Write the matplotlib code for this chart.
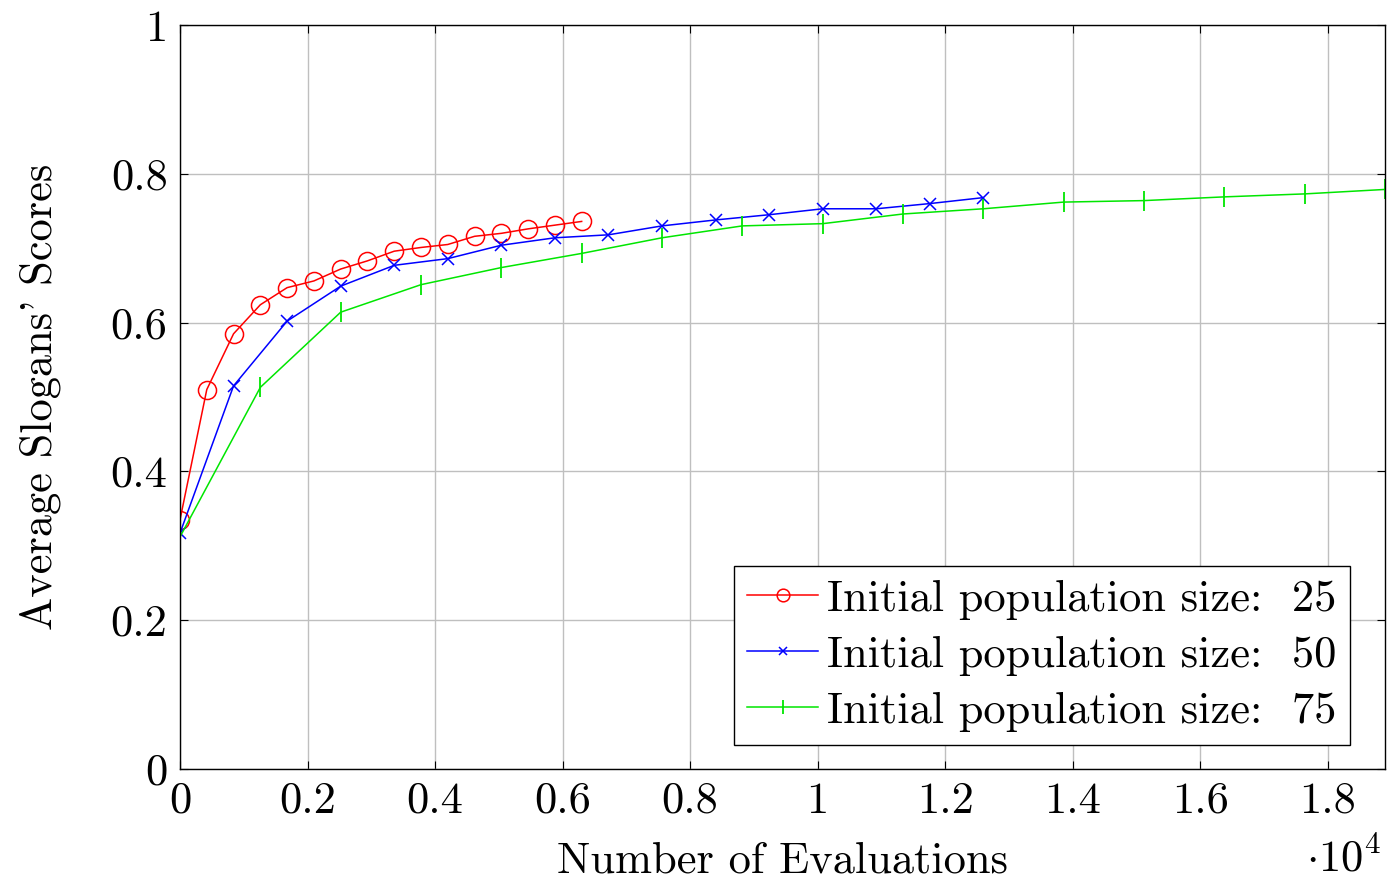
import numpy as np
import matplotlib
matplotlib.use('Agg')
import matplotlib.pyplot as plt
from matplotlib.ticker import FuncFormatter

plt.rcParams['font.family'] = ['cmr10', 'DejaVu Serif']
plt.rcParams['mathtext.fontset'] = 'cm'
plt.rcParams['axes.formatter.use_mathtext'] = True

# evaluations
evals_25 = [0, 420, 840, 1260, 1680, 2100, 2520, 2940, 3360, 3780, 4200, 4620, 5040, 5460, 5880, 6300]
score_25 = [0.335, 0.510, 0.585, 0.624, 0.647, 0.656, 0.672, 0.683, 0.696, 0.701, 0.705, 0.716, 0.720, 0.726, 0.731, 0.736]

evals_50 = [0, 840, 1680, 2520, 3360, 4200, 5040, 5880, 6720, 7560, 8400, 9240, 10080, 10920, 11760, 12600]
score_50 = [0.317, 0.515, 0.602, 0.649, 0.677, 0.686, 0.704, 0.714, 0.718, 0.730, 0.738, 0.745, 0.753, 0.753, 0.760, 0.768]

evals_75 = [0, 1260, 2520, 3780, 5040, 6300, 7560, 8820, 10080, 11340, 12600, 13860, 15120, 16380, 17640, 18900]
score_75 = [0.312, 0.513, 0.614, 0.651, 0.674, 0.693, 0.714, 0.730, 0.733, 0.746, 0.753, 0.762, 0.764, 0.769, 0.773, 0.779]

labels = ['Initial population size:  25', 'Initial population size:  50', 'Initial population size:  75']

fs = 32

fig = plt.figure(figsize=(13.9, 8.84), dpi=100)
ax = fig.add_axes([0.1295, 0.1301, 0.8669, 0.8416])

ax.plot(evals_25, score_25, color='red', lw=1.1, marker='o', ms=13, mfc='none', mew=1.1, label=labels[0])
ax.plot(evals_50, score_50, color='blue', lw=1.1, marker='x', ms=9, mew=1.1, label=labels[1])
ax.plot(evals_75, score_75, color=(0, 0.9, 0), lw=1.1, marker='|', ms=14, mew=1.3, label=labels[2])

ax.set_xlim(0, 18900)
ax.set_ylim(0, 1)
ax.set_xticks(np.arange(0, 18001, 2000))
ax.set_yticks([0, 0.2, 0.4, 0.6, 0.8, 1])
ax.xaxis.set_major_formatter(FuncFormatter(lambda v, p: '%g' % (v / 1e4)))
ax.yaxis.set_major_formatter(FuncFormatter(lambda v, p: '%g' % v))
ax.grid(True, color='#bfbfbf', lw=1.0)
ax.set_axisbelow(True)
ax.tick_params(direction='in', length=6, width=0.8, top=True, right=True, labelsize=fs, pad=9)
for s in ax.spines.values():
    s.set_linewidth(1.0)

ax.set_xlabel('Number of Evaluations', fontsize=fs, labelpad=14)
ax.set_ylabel("Average Slogans' Scores", fontsize=fs, labelpad=36)
ax.text(0.997, -0.094, r'$\cdot 10^4$', transform=ax.transAxes, ha='right', va='top', fontsize=fs)

leg = ax.legend(loc='lower right', bbox_to_anchor=(0.971, 0.032), fontsize=fs, fancybox=False,
                framealpha=1, edgecolor='black', handlelength=1.6, handletextpad=0.2,
                borderpad=0.3, labelspacing=0.36, borderaxespad=0, markerscale=0.7)
leg.get_frame().set_linewidth(1.0)

fig.savefig('out.png', dpi=100)
